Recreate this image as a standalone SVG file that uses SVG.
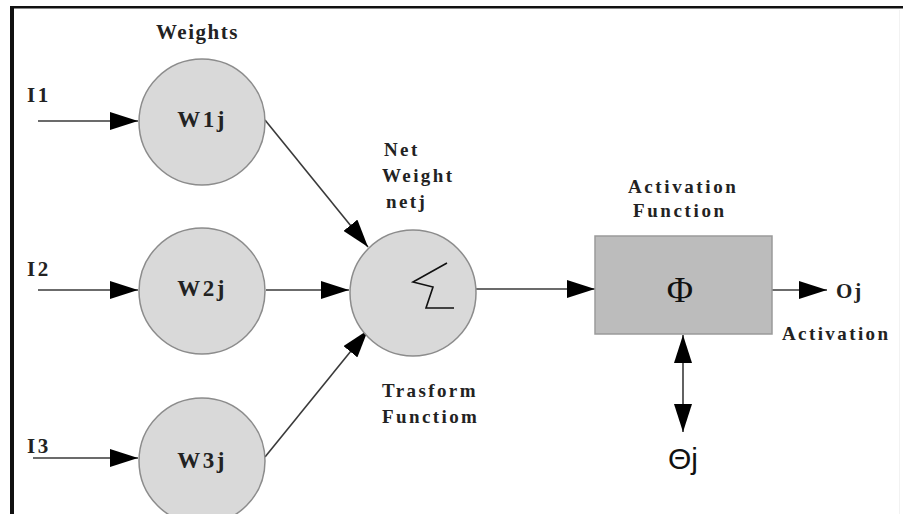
<svg xmlns="http://www.w3.org/2000/svg" width="903" height="514" viewBox="0 0 903 514">
  <style>
    .lbl { font-family: "Liberation Serif", "Times New Roman", serif; font-weight: bold; fill: #222; }
    .node circle { fill: #d9d9d9; stroke: #8c8c8c; stroke-width: 1.5; }
    .wlbl { font-size: 23px; letter-spacing: 2.5px; }
    .edge { stroke: #3a3a3a; stroke-width: 1.6; fill: none; marker-end: url(#head); }
  </style>
  <defs>
    <marker id="head" viewBox="0 0 28 18" refX="28" refY="9" markerWidth="28" markerHeight="18" markerUnits="userSpaceOnUse" orient="auto-start-reverse">
      <path d="M0,0 L28,9 L0,18 Z" fill="#000"/>
    </marker>
  </defs>

  <rect width="903" height="514" fill="#fff"/>

  <!-- frame -->
  <g id="frame">
    <rect x="10" y="6" width="893" height="2.5" fill="#111"/>
    <rect x="10" y="6" width="4" height="508" fill="#111"/>
    <rect x="899" y="10" width="1" height="504" fill="#f2f2f2"/>
  </g>

  <!-- connectors -->
  <g id="connectors">
    <line class="edge" x1="38" y1="121" x2="138" y2="121"/>
    <line class="edge" x1="38" y1="290" x2="138" y2="290"/>
    <line class="edge" x1="33" y1="458" x2="138" y2="458"/>
    <line class="edge" x1="265" y1="120" x2="368" y2="247"/>
    <line class="edge" x1="266" y1="290" x2="349" y2="290"/>
    <line class="edge" x1="265" y1="457" x2="368" y2="330"/>
    <line class="edge" x1="476" y1="289" x2="595" y2="289"/>
    <line class="edge" x1="772" y1="290" x2="827" y2="290"/>
    <line class="edge" x1="683" y1="335" x2="683" y2="432" style="marker-start:url(#head)"/>
  </g>

  <!-- input labels -->
  <g id="inputs">
    <text class="lbl" x="27" y="102" font-size="21" letter-spacing="2.5">I1</text>
    <text class="lbl" x="27" y="276" font-size="21" letter-spacing="2.5">I2</text>
    <text class="lbl" x="27" y="453" font-size="21" letter-spacing="2.5">I3</text>
  </g>

  <text class="lbl" x="156" y="39" font-size="21" letter-spacing="1.5">Weights</text>

  <g id="w1j" class="node">
    <circle cx="202" cy="122" r="63"/>
    <text class="lbl wlbl" x="202" y="127" text-anchor="middle">W1j</text>
  </g>
  <g id="w2j" class="node">
    <circle cx="202" cy="291" r="63"/>
    <text class="lbl wlbl" x="202" y="296" text-anchor="middle">W2j</text>
  </g>
  <g id="w3j" class="node">
    <circle cx="202" cy="461" r="63"/>
    <text class="lbl wlbl" x="202" y="468" text-anchor="middle">W3j</text>
  </g>

  <g id="netj" class="node">
    <circle cx="413" cy="293" r="63"/>
    <polyline points="447,263 413,282 433,287 426,308 454,308" fill="none" stroke="#111" stroke-width="1.6"/>
  </g>
  <g id="netj-label">
    <text class="lbl" x="384" y="156" font-size="19" letter-spacing="2.4">Net</text>
    <text class="lbl" x="382" y="182" font-size="19" letter-spacing="2.4">Weight</text>
    <text class="lbl" x="386" y="208" font-size="19" letter-spacing="2.4">netj</text>
  </g>
  <g id="transform-label">
    <text class="lbl" x="382" y="397" font-size="19" letter-spacing="2.4">Trasform</text>
    <text class="lbl" x="382" y="423" font-size="19" letter-spacing="2.4">Functiom</text>
  </g>

  <g id="activation">
    <rect x="595" y="236" width="177" height="98" fill="#bcbcbc" stroke="#9a9a9a" stroke-width="1.5"/>
    <text x="680" y="302" font-family="Liberation Serif, Times New Roman, serif" font-size="36" fill="#111" text-anchor="middle">Φ</text>
  </g>
  <g id="activation-label">
    <text class="lbl" x="628" y="193" font-size="19" letter-spacing="2.6">Activation</text>
    <text class="lbl" x="633" y="217" font-size="19" letter-spacing="2.6">Function</text>
  </g>

  <g id="output">
    <text class="lbl" x="836" y="298" font-size="21" letter-spacing="2">Oj</text>
    <text class="lbl" x="782" y="340" font-size="19" letter-spacing="2.4">Activation</text>
  </g>

  <g id="theta">
    <text x="668" y="469" font-family="Liberation Sans, Arial, sans-serif" font-size="30" fill="#111">Θj</text>
  </g>
</svg>
